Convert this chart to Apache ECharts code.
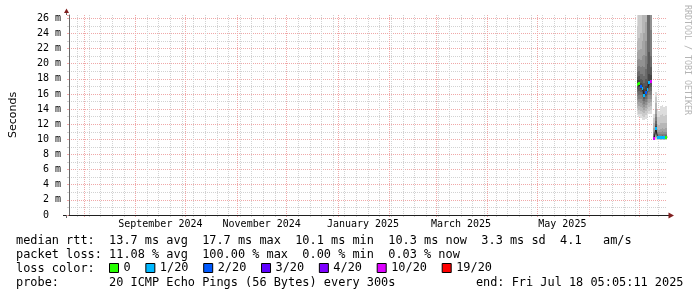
<!DOCTYPE html>
<html><head><meta charset="utf-8">
<script src="https://cdn.jsdelivr.net/npm/echarts@6/dist/echarts.min.js"></script>
<style>html,body{margin:0;padding:0;background:#fff}#c{width:697px;height:297px}</style>
</head><body><div id="c"></div>
<script>
// ---------- data ----------
const smokeDays = ['2025-06-30','2025-07-01','2025-07-02','2025-07-03','2025-07-04','2025-07-05','2025-07-06','2025-07-07','2025-07-08','2025-07-09',
  '2025-07-10','2025-07-11','2025-07-12','2025-07-13','2025-07-14','2025-07-15','2025-07-16','2025-07-17','2025-07-18'];
// median rtt (ms) per day
const medianRtt = [17.3, 17.4, 17.0, 16.7, 15.8, 16.2, 16.6, 17.5, 17.7, null, 10.15, 11.45, 10.25, 10.25, 10.2, 10.25, 10.2, 10.25, 10.3];
// lost pings out of 20 per day
const lossCount = [0, 0, 2, 1, 1, 2, 1, 1, 8, 20, 7, 1, 1, 1, 1, 1, 1, 0, 0];
// sorted ping rtts (ms) per day, 20 pings
const pings_0630 = [13.2,13.7,14.2,14.7,15.2,15.7,16.2,16.6,17.0,17.2,17.4,17.8,18.3,18.9,19.6,20.5,21.6,23.0,25.0,34.0];
const pings_0701 = [12.9,13.4,13.9,14.4,14.9,15.4,15.9,16.4,16.9,17.3,17.5,17.9,18.4,19.0,19.7,20.6,21.8,23.4,27.0,38.0];
const pings_0702 = [12.8,13.3,13.8,14.3,14.8,15.3,15.8,16.3,16.7,16.9,17.1,17.5,18.0,18.7,19.5,20.5,22.0,24.0,29.0,40.0];
const pings_0703 = [12.6,13.1,13.6,14.1,14.6,15.1,15.6,16.0,16.4,16.6,16.8,17.3,17.9,18.7,19.7,21.0,23.0,26.6,32.0,45.0];
const pings_0704 = [12.5,13.0,13.5,13.9,14.3,14.7,15.1,15.4,15.6,15.7,15.9,16.6,17.4,18.4,19.6,21.2,24.0,28.0,34.0,48.0];
const pings_0705 = [12.7,13.2,13.7,14.2,14.6,15.0,15.4,15.7,16.0,16.1,16.3,17.0,18.0,19.3,21.0,23.0,25.5,29.0,36.0,50.0];
const pings_0706 = [13.0,13.5,14.0,14.5,15.0,15.4,15.8,16.1,16.4,16.5,16.7,17.6,20.0,27.0,32.0,38.0,45.0,52.0,60.0,80.0];
const pings_0707 = [13.3,13.8,14.3,14.8,15.3,15.8,16.3,16.8,17.2,17.4,17.6,18.6,21.5,28.0,33.0,40.0,47.0,55.0,65.0,85.0];
const pings_0708 = [13.4,13.9,14.4,14.9,15.4,15.9,16.4,16.9,17.4,17.6,17.8,18.5,19.5,21.0,24.5,28.0,33.0,40.0,50.0,70.0];
const pings_0710 = [9.85,9.9,9.95,10.0,10.04,10.07,10.1,10.12,10.14,10.15,10.17,10.22,10.3,10.45,10.7,11.0,11.5,12.1,12.8,13.4];
const pings_0711 = [9.9,10.0,10.15,10.35,10.55,10.75,10.95,11.15,11.3,11.4,11.5,11.7,12.0,12.4,12.9,13.4,14.0,14.8,15.6,16.3];
const pings_0712 = [9.9,9.95,10.0,10.05,10.1,10.13,10.16,10.19,10.22,10.24,10.27,10.32,10.4,10.5,10.7,11.0,11.4,12.0,13.0,13.9];
const pings_0713 = [9.9,9.95,10.0,10.05,10.1,10.13,10.16,10.19,10.22,10.24,10.27,10.32,10.4,10.5,10.7,10.95,11.3,11.9,12.9,13.8];
const pings_0714 = [9.88,9.93,9.98,10.03,10.07,10.1,10.13,10.16,10.18,10.2,10.22,10.27,10.35,10.46,10.65,10.95,11.4,12.1,13.2,14.4];
const pings_0715 = [9.9,9.95,10.0,10.05,10.1,10.13,10.16,10.19,10.22,10.24,10.27,10.33,10.42,10.55,10.75,11.05,11.5,12.2,13.3,14.5];
const pings_0716 = [9.88,9.93,9.98,10.03,10.07,10.1,10.13,10.16,10.18,10.2,10.22,10.27,10.35,10.46,10.65,10.95,11.4,12.1,13.1,14.3];
const pings_0717 = [9.9,9.95,10.0,10.05,10.1,10.13,10.16,10.19,10.22,10.24,10.27,10.32,10.4,10.52,10.72,11.0,11.45,12.1,13.2,14.4];
const pings_0718 = [9.95,10.0,10.05,10.1,10.15,10.18,10.21,10.24,10.27,10.29,10.32,10.37,10.45,10.55,10.75,11.0,11.4,12.0,13.0,14.0];
const smokePings = [pings_0630,pings_0701,pings_0702,pings_0703,pings_0704,pings_0705,pings_0706,pings_0707,pings_0708,null,
  pings_0710,pings_0711,pings_0712,pings_0713,pings_0714,pings_0715,pings_0716,pings_0717,pings_0718];

const lossLabels = ['0','1/20','2/20','3/20','4/20','10/20','19/20'];
const lossLimits = [0, 1, 2, 3, 4, 10, 19];
const lossColors = ['#26ff00','#00b8ff','#0059ff','#5e00ff','#7e00ff','#dd00ff','#ff0000'];
const smokeShades = ['#dddddd','#cacaca','#b7b7b7','#a4a4a4','#919191','#7e7e7e','#6b6b6b','#585858','#454545','#323232'];

const yMax = 26.44;
const monthLabels = ['September 2024','November 2024','January 2025','March 2025','May 2025'];
const monthLabelDays = ['2024-09-16','2024-11-16','2025-01-16','2025-03-16','2025-05-16'];
const statLines = [
  'median rtt:  13.7 ms avg  17.7 ms max  10.1 ms min  10.3 ms now  3.3 ms sd  4.1   am/s',
  'packet loss: 11.08 % avg  100.00 % max  0.00 % min  0.03 % now',
  'loss color:',
  'probe:       20 ICMP Echo Pings (56 Bytes) every 300s'
];
const endLabel = 'end: Fri Jul 18 05:05:11 2025';
const watermark = 'RRDTOOL / TOBI OETIKER';

// ---------- helpers ----------
const DAY = 86400000;
const END = new Date(2025, 6, 18, 5, 5, 11).getTime();
const START = END - 360 * DAY;
const pad = n => (n < 10 ? '0' : '') + n;
const fmtDay = d => d.getFullYear() + '-' + pad(d.getMonth() + 1) + '-' + pad(d.getDate());
const parseDay = s => { const a = s.split('-').map(Number); return new Date(a[0], a[1] - 1, a[2]).getTime(); };
const dayCats = [];
for (let i = 0; i <= 360; i++) dayCats.push(fmtDay(new Date(2024, 6, 23 + i)));
const isSunday = v => new Date(parseDay(v)).getDay() === 0 && v.slice(8) !== '01';
const isMonthStart = v => v.slice(8) === '01';

const GRID_MINOR = '#d2d2d2';
const GRID_MAJOR = '#f0a8a8';
const MONO = '"DejaVu Sans Mono", monospace';
const LEG_FONT = '11.9px ' + MONO;

// smoke layers
const smokeData = [];
for (let k = 0; k < 10; k++) {
  smokeDays.forEach((s, i) => {
    const p = smokePings[i];
    if (!p) return;
    smokeData.push([parseDay(s), p[k], p[19 - k], k]);
  });
}
function clipTo(params, r) {
  const cs = params.coordSys;
  return echarts.graphic.clipRectByRect(r, {x: cs.x, y: cs.y, width: cs.width, height: cs.height});
}
function smokeRender(params, api) {
  const t = api.value(0);
  const a = api.coord([t, api.value(2)]);
  const b = api.coord([t + DAY, api.value(1)]);
  const x0 = Math.round(a[0]), x1 = Math.round(b[0]);
  const y0 = Math.round(a[1]), y1 = Math.round(b[1]);
  const shape = clipTo(params, {x: x0, y: y0, width: x1 - x0, height: y1 - y0});
  if (!shape || shape.height <= 0 || shape.width <= 0) return null;
  return {type: 'rect', shape, style: {fill: smokeShades[api.value(3)]}};
}
function boxRender(params, api) {
  const t = api.value(0), m = api.value(1);
  const a = api.coord([t, m]);
  const b = api.coord([t + DAY, m]);
  const x0 = Math.round(a[0]), x1 = Math.round(b[0]);
  const y0 = Math.round(a[1] - 1.5), y1 = Math.round(a[1] + 1.5);
  const shape = clipTo(params, {x: x0, y: y0, width: x1 - x0, height: y1 - y0});
  if (!shape) return null;
  return {type: 'rect', shape, style: {fill: api.visual('color')}};
}
function bucketOf(c) {
  if (c >= 20) return -1;
  for (let b = 0; b < lossLimits.length; b++) if (c <= lossLimits[b]) return b;
  return lossLimits.length - 1;
}
const boxData = lossLabels.map(() => []);
smokeDays.forEach((s, i) => {
  if (medianRtt[i] == null) return;
  const b = bucketOf(lossCount[i]);
  if (b >= 0) boxData[b].push([parseDay(s), medianRtt[i]]);
});

const series = [
  {type: 'custom', name: 'smoke', xAxisIndex: 0, yAxisIndex: 0, silent: true, z: 5,
   dimensions: ['t', 'lo', 'hi', 'layer'], encode: {x: 0, y: [1, 2]},
   data: smokeData, renderItem: smokeRender},
  {type: 'line', name: 'median', xAxisIndex: 0, yAxisIndex: 0, silent: true, z: 6,
   data: smokeDays.map((s, i) => [parseDay(s) + DAY / 2, medianRtt[i]]),
   symbol: 'none', connectNulls: false, lineStyle: {color: '#202020', width: 1}}
].concat(lossLabels.map((name, b) => ({
  type: 'custom', name, xAxisIndex: 0, yAxisIndex: 0, silent: true, z: 7,
  itemStyle: {color: lossColors[b]}, encode: {x: 0, y: 1},
  data: boxData[b], renderItem: boxRender
})));

const chart = echarts.init(document.getElementById('c'), null, {renderer: 'canvas'});
chart.setOption({
  animation: false,
  backgroundColor: '#ffffff',
  grid: {left: 67, top: 15, width: 600, height: 200},
  xAxis: [
    {type: 'value', min: START, max: END, position: 'bottom', z: 3, scale: true,
     axisLine: {show: true, onZero: false, lineStyle: {color: '#1f1f1f', width: 1}},
     axisTick: {show: false}, axisLabel: {show: false}, splitLine: {show: false}, minorSplitLine: {show: false}},
    {type: 'category', data: dayCats, boundaryGap: false, position: 'bottom',
     axisLine: {show: false},
     axisTick: {show: true, interval: (i, v) => isSunday(v), length: 2, lineStyle: {color: GRID_MINOR}},
     axisLabel: {show: false},
     splitLine: {show: true, interval: (i, v) => isSunday(v), lineStyle: {color: GRID_MINOR, width: 1, type: [1, 1]}}},
    {type: 'category', data: dayCats, boundaryGap: false, position: 'bottom',
     axisLine: {show: false},
     axisTick: {show: true, interval: (i, v) => isMonthStart(v), length: 2, lineStyle: {color: GRID_MAJOR}},
     axisLabel: {show: true, interval: (i, v) => monthLabelDays.indexOf(v) >= 0,
       formatter: v => monthLabels[monthLabelDays.indexOf(v)] || '',
       fontFamily: MONO, fontSize: 10, color: '#000', margin: 4, hideOverlap: false},
     splitLine: {show: true, interval: (i, v) => isMonthStart(v), lineStyle: {color: GRID_MAJOR, width: 1, type: [1, 1]}}}
  ],
  yAxis: [
    {type: 'value', min: 0, max: yMax, interval: 2, position: 'left',
     name: 'Seconds', nameLocation: 'middle', nameGap: 50, nameRotate: 90,
     nameTextStyle: {fontFamily: '"DejaVu Sans", sans-serif', fontSize: 11, color: '#000'},
     axisLine: {show: true, lineStyle: {color: '#666', width: 1}},
     axisTick: {show: true, length: 2, lineStyle: {color: GRID_MAJOR}},
     minorTick: {show: true, splitNumber: 2, length: 2, lineStyle: {color: GRID_MINOR}},
     axisLabel: {show: true, showMaxLabel: false, margin: 8, fontFamily: MONO, fontSize: 10, color: '#000',
       formatter: v => (v === 0 ? '0  ' : (Number.isInteger(v) ? v + ' m' : ''))},
     splitLine: {show: true, showMinLine: false, showMaxLine: false, lineStyle: {color: GRID_MAJOR, width: 1, type: [1, 1]}},
     minorSplitLine: {show: true, lineStyle: {color: GRID_MINOR, width: 1, type: [1, 1]}}}
  ],
  legend: {show: true, left: 109, top: 262, padding: 0, data: lossLabels, icon: 'rect',
    itemWidth: 9, itemHeight: 9, itemGap: 14.7, selectedMode: false,
    itemStyle: {borderColor: '#000', borderWidth: 1},
    textStyle: {fontFamily: MONO, fontSize: 11.9, color: '#000'}},
  series,
  graphic: [
    {type: 'text', x: 16, y: 241, silent: true, style: {text: statLines[0], font: LEG_FONT, fill: '#000', verticalAlign: 'middle'}},
    {type: 'text', x: 16, y: 255, silent: true, style: {text: statLines[1], font: LEG_FONT, fill: '#000', verticalAlign: 'middle'}},
    {type: 'text', x: 16, y: 269, silent: true, style: {text: statLines[2], font: LEG_FONT, fill: '#000', verticalAlign: 'middle'}},
    {type: 'text', x: 16, y: 283, silent: true, style: {text: statLines[3], font: LEG_FONT, fill: '#000', verticalAlign: 'middle'}},
    {type: 'text', x: 683.5, y: 283, silent: true, style: {text: endLabel, font: LEG_FONT, fill: '#000', align: 'right', verticalAlign: 'middle'}},
    {type: 'text', x: 687, y: 5, rotation: -Math.PI / 2, silent: true, style: {text: watermark, font: '8.3px ' + MONO, fill: '#b4b4b4', align: 'left', verticalAlign: 'middle'}},
    {type: 'line', silent: true, shape: {x1: 63, y1: 215.5, x2: 67, y2: 215.5}, style: {stroke: '#1f1f1f', lineWidth: 1}},
    {type: 'line', silent: true, shape: {x1: 667, y1: 215.5, x2: 669, y2: 215.5}, style: {stroke: '#1f1f1f', lineWidth: 1}},
    {type: 'line', silent: true, shape: {x1: 66.5, y1: 215, x2: 66.5, y2: 218}, style: {stroke: '#666', lineWidth: 1}},
    {type: 'line', silent: true, shape: {x1: 66.5, y1: 12, x2: 66.5, y2: 15}, style: {stroke: '#666', lineWidth: 1}},
    {type: 'polygon', silent: true, shape: {points: [[668.5, 212.5], [668.5, 218.5], [674, 215.5]]}, style: {fill: '#801f1f'}},
    {type: 'polygon', silent: true, shape: {points: [[64, 13], [69, 13], [66.5, 8.5]]}, style: {fill: '#801f1f'}}
  ]
});
</script></body></html>
